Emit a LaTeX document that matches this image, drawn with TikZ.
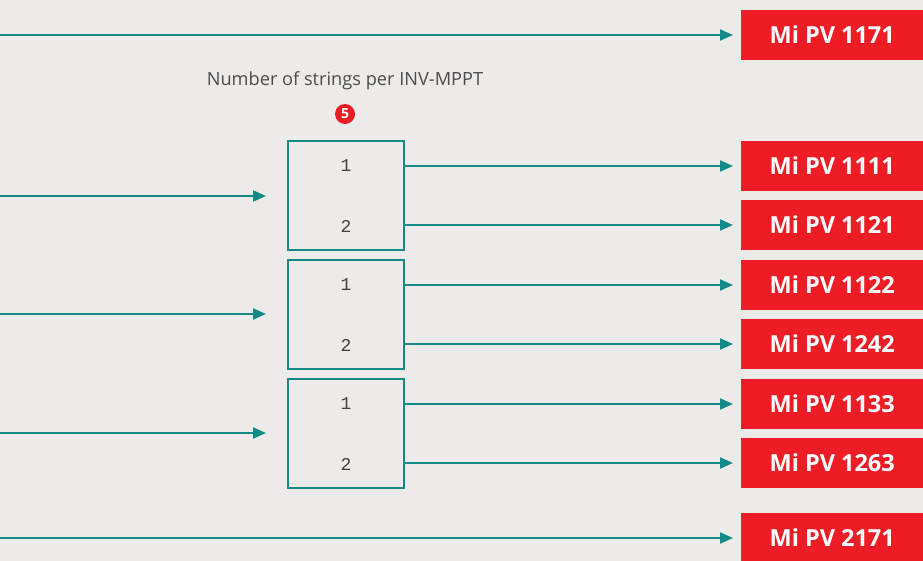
\documentclass[tikz,border=0pt]{standalone}
\usepackage{fontspec}
\setmainfont{Open Sans}
\newfontfamily\strfont{Liberation Mono}
\usetikzlibrary{arrows.meta,positioning}
\definecolor{bgcol}{HTML}{EDEBE9}
\definecolor{tealcol}{HTML}{138A87}
\definecolor{pvred}{HTML}{EE1C25}
\tikzset{
    pvbox/.style={fill=pvred, text=white, anchor=west, minimum width=182pt, minimum height=50pt, inner sep=0pt, font=\fontsize{23.5}{23.5}\selectfont\bfseries},
    mpptbox/.style={draw=tealcol, line width=2pt, minimum width=116pt, minimum height=109pt, inner sep=0pt},
    feed/.style={draw=tealcol, line width=2pt, -{Triangle[length=13pt,width=11pt]}},
    strnum/.style={text=black!75, font=\strfont\fontsize{18}{18}\selectfont},
}
\begin{document}
\begin{tikzpicture}[x=1pt,y=-1pt]
        \fill[bgcol] (0,0) rectangle (923,561);
        \useasboundingbox (0,0) rectangle (923,561);
        % red outputs
        \node[pvbox] (pv1171) at (741,35) {Mi PV 1171};
        \node[pvbox] (pv1111) at (741,166) {Mi PV 1111};
        \node[pvbox] (pv1121) at (741,225) {Mi PV 1121};
        \node[pvbox] (pv1122) at (741,285) {Mi PV 1122};
        \node[pvbox] (pv1242) at (741,344) {Mi PV 1242};
        \node[pvbox] (pv1133) at (741,404) {Mi PV 1133};
        \node[pvbox] (pv1263) at (741,463) {Mi PV 1263};
        \node[pvbox] (pv2171) at (741,538) {Mi PV 2171};
        % header
        \node[text=black!70, font=\fontsize{18.2}{18.2}\selectfont] (title) at (345,81) {Number of strings per INV-MPPT};
        \node[circle, fill=pvred, text=white, minimum size=20pt, inner sep=0pt, font=\fontsize{14}{14}\selectfont\bfseries] (five) at (345,114) {5};
        % MPPT boxes
        \node[mpptbox] (inv1) at (346,195.5) {};
        \node[mpptbox] (inv2) at (346,314.5) {};
        \node[mpptbox] (inv3) at (346,433.5) {};
        \node[strnum] (s11) at (346,166) {1};
        \node[strnum] (s12) at (346,226) {2};
        \node[strnum] (s21) at (346,285) {1};
        \node[strnum] (s22) at (346,345) {2};
        \node[strnum] (s31) at (346,404) {1};
        \node[strnum] (s32) at (346,464) {2};
        % inputs
        \coordinate (top) at (0,35);
        \coordinate (in1) at (0,196);
        \coordinate (in2) at (0,314);
        \coordinate (in3) at (0,433);
        \coordinate (bot) at (0,538);
        \draw[feed, shorten >=8pt] (top) -- (pv1171.west);
        \draw[feed, shorten >=21pt] (in1) -- (inv1.west |- in1);
        \draw[feed, shorten >=21pt] (in2) -- (inv2.west |- in2);
        \draw[feed, shorten >=21pt] (in3) -- (inv3.west |- in3);
        \draw[feed, shorten >=8pt] (bot) -- (pv2171.west);
        % strings
        \draw[feed, shorten >=8pt] (inv1.east |- pv1111) -- (pv1111.west);
        \draw[feed, shorten >=8pt] (inv1.east |- pv1121) -- (pv1121.west);
        \draw[feed, shorten >=8pt] (inv2.east |- pv1122) -- (pv1122.west);
        \draw[feed, shorten >=8pt] (inv2.east |- pv1242) -- (pv1242.west);
        \draw[feed, shorten >=8pt] (inv3.east |- pv1133) -- (pv1133.west);
        \draw[feed, shorten >=8pt] (inv3.east |- pv1263) -- (pv1263.west);
\end{tikzpicture}
\end{document}
